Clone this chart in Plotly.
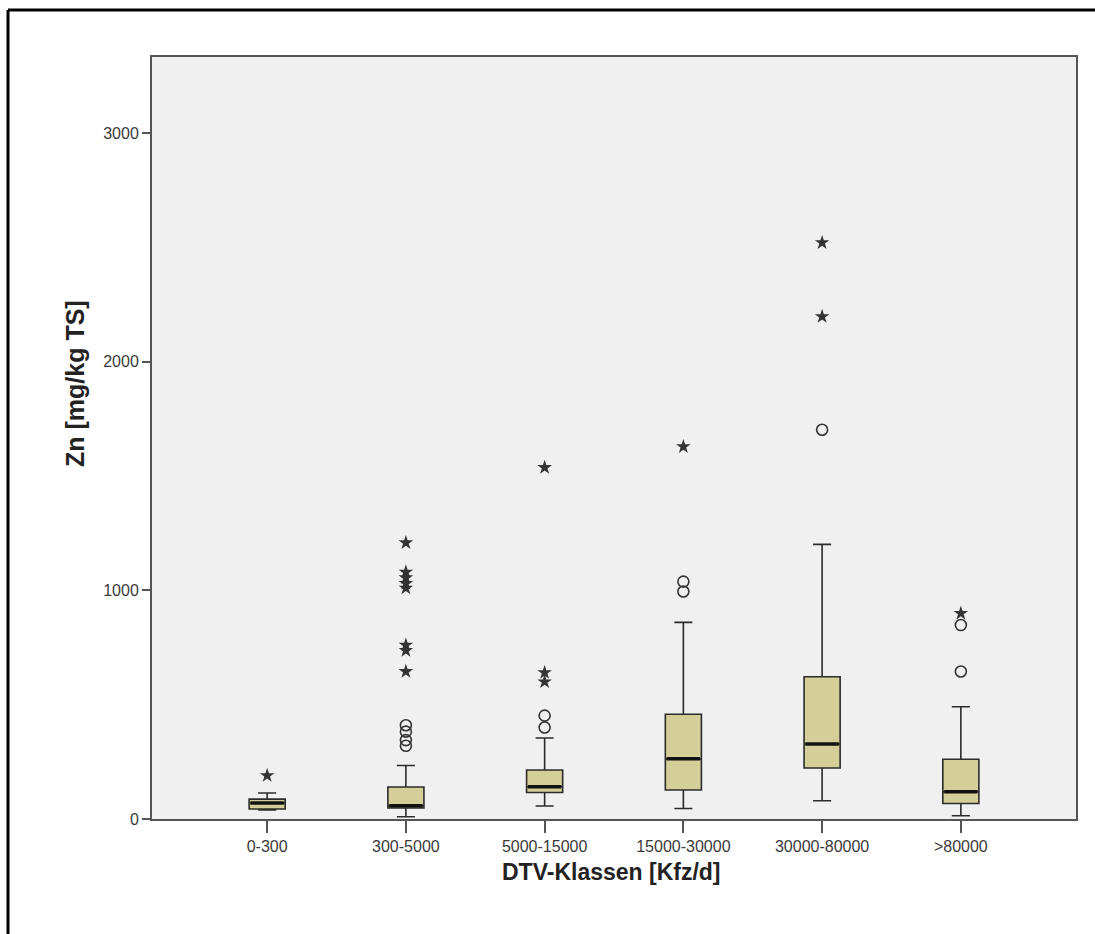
import plotly.graph_objects as go

# DTV classes and zinc content (mg/kg TS) box statistics
categories = ["0-300", "300-5000", "5000-15000", "15000-30000", "30000-80000", ">80000"]
q1 = [44, 48, 116, 127, 223, 68]
median = [70, 58, 141, 263, 328, 119]
q3 = [87, 140, 214, 458, 622, 261]
lower_whisker = [40, 10, 57, 46, 80, 14]
upper_whisker = [114, 234, 354, 860, 1201, 491]

# mild outliers (circles) and extreme values (stars)
outliers = [
    [],
    [410, 382, 345, 320],
    [452, 400],
    [1038, 995],
    [1702],
    [848, 645],
]
extremes = [
    [190],
    [1208, 1080, 1055, 1030, 1010, 760, 737, 645],
    [1537, 640, 600],
    [1628],
    [2520, 2197],
    [899],
]

y_ticks = [0, 1000, 2000, 3000]
x_title = "DTV-Klassen [Kfz/d]"
y_title = "Zn [mg/kg TS]"

BOX_FILL = "#D4CE98"
LINE = "#2b2b2b"
BOX_W = 0.26

fig = go.Figure()

for i, cat in enumerate(categories):
    fig.add_trace(go.Box(
        x=[i], q1=[q1[i]], median=[median[i]], q3=[q3[i]],
        lowerfence=[lower_whisker[i]], upperfence=[upper_whisker[i]],
        width=BOX_W, whiskerwidth=0.5,
        fillcolor=BOX_FILL, line=dict(color=LINE, width=1.6),
        boxpoints=False, showlegend=False, hoverinfo="skip",
        name=cat,
    ))
    # thick median bar
    fig.add_trace(go.Scatter(
        x=[i - BOX_W / 2 + 0.01, i + BOX_W / 2 - 0.01], y=[median[i], median[i]],
        mode="lines", line=dict(color="#111111", width=3.5),
        showlegend=False, hoverinfo="skip",
    ))
    if outliers[i]:
        fig.add_trace(go.Scatter(
            x=[i] * len(outliers[i]), y=outliers[i], mode="markers",
            marker=dict(symbol="circle-open", size=11, color="#333333",
                        line=dict(width=1.6, color="#333333")),
            showlegend=False, hoverinfo="skip",
        ))
    if extremes[i]:
        fig.add_trace(go.Scatter(
            x=[i] * len(extremes[i]), y=extremes[i], mode="markers",
            marker=dict(symbol="star", size=11, color="#333333",
                        line=dict(width=0)),
            showlegend=False, hoverinfo="skip",
        ))

W, H = 1095, 934
L, R, T, B = 152, 19, 57, 115
pw, ph = W - L - R, H - T - B


def px_x(px):
    return (px - L) / pw


def px_y(py):
    return (H - B - py) / ph


frame = dict(color="black", width=3)

fig.update_layout(
    width=W, height=H,
    margin=dict(l=L, r=R, t=T, b=B),
    paper_bgcolor="white",
    plot_bgcolor="#F0F0F0",
    font=dict(family="Liberation Sans, Arial, sans-serif", color="#333333"),
    xaxis=dict(
        range=[-0.83, 5.83],
        tickmode="array", tickvals=list(range(len(categories))), ticktext=categories,
        ticks="outside", ticklen=12, tickwidth=1.5, tickcolor="#555555",
        tickfont=dict(size=16, color="#3a3a3a"),
        showline=True, linecolor="#555555", linewidth=2, mirror=True,
        showgrid=False, zeroline=False,
    ),
    yaxis=dict(
        range=[0, 3332],
        tickmode="array", tickvals=y_ticks, ticktext=[str(v) for v in y_ticks],
        ticks="outside", ticklen=8, tickwidth=1.5, tickcolor="#555555",
        tickfont=dict(size=16, color="#3a3a3a"),
        showline=True, linecolor="#555555", linewidth=2, mirror=True,
        showgrid=False, zeroline=False,
    ),
    annotations=[
        dict(text="<b>" + x_title + "</b>", xref="paper", yref="paper",
             x=px_x(611), y=px_y(872), xanchor="center", yanchor="middle",
             showarrow=False, font=dict(size=23, color="#222222")),
        dict(text="<b>" + y_title + "</b>", xref="paper", yref="paper",
             x=px_x(75), y=px_y(384), xanchor="center", yanchor="middle",
             textangle=-90, showarrow=False, font=dict(size=25, color="#222222")),
    ],
    # outer frame: left and top edges only
    shapes=[
        dict(type="line", xref="paper", yref="paper",
             x0=px_x(8), x1=px_x(8), y0=px_y(H + 5), y1=px_y(10), line=frame),
        dict(type="line", xref="paper", yref="paper",
             x0=px_x(8), x1=px_x(W + 5), y0=px_y(10), y1=px_y(10), line=frame),
    ],
)

fig.write_html("out.html")
